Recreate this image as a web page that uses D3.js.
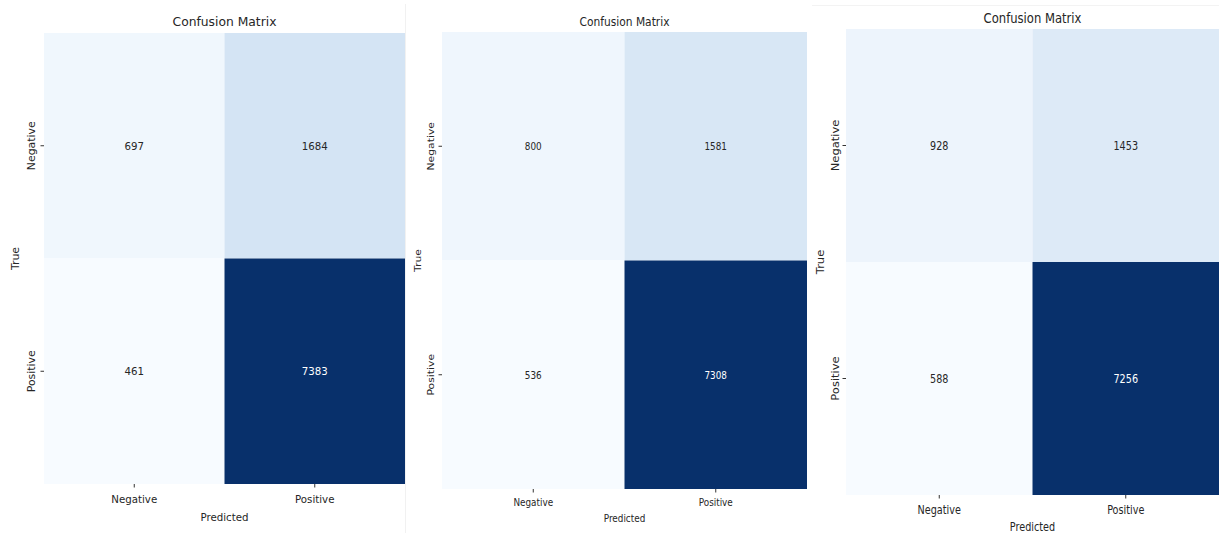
<!DOCTYPE html>
<html>
<head>
<meta charset="utf-8">
<script src="https://cdn.jsdelivr.net/npm/d3@7"></script>
<style>
  body { margin: 0; background: #fff; }
  svg { display: block; }
  text { font-family: "DejaVu Sans", sans-serif; fill: #262626; }
</style>
</head>
<body>
<div id="chart"></div>
<script>
var W = 1219, H = 533;

// class labels and the three confusion matrices (rows = True, cols = Predicted)
var classes = ["Negative", "Positive"];
var matrixA = [[697, 1684], [461, 7383]];
var matrixB = [[800, 1581], [536, 7308]];
var matrixC = [[928, 1453], [588, 7256]];
var titles = ["Confusion Matrix", "Confusion Matrix", "Confusion Matrix"];

// each panel was squeezed sideways a bit, so the text gets a horizontal scale
var panels = [
  { m: matrixA, x0: 44, x1: 405, y0: 33, y1: 484, sx: 0.94, fs: 10.9, tfs: 13.1,
    titleY: 26, xtickY: 503, xlabY: 521, ytickX: 35, ylabX: 19 },
  { m: matrixB, x0: 442, x1: 807, y0: 32, y1: 489, sx: 0.82, fs: 10.8, tfs: 13,
    titleY: 26, xtickY: 506, xlabY: 522, ytickX: 434, ylabX: 421 },
  { m: matrixC, x0: 846, x1: 1219, y0: 29, y1: 495, sx: 0.84, fs: 11.5, tfs: 13.8,
    titleY: 23, xtickY: 514, xlabY: 531, ytickX: 839, ylabX: 824 }
];

var svg = d3.select("#chart")
  .append("svg")
  .attr("width", W)
  .attr("height", H);

// faint seams between the stitched images
svg.append("line")
  .attr("x1", 405.5).attr("x2", 405.5).attr("y1", 4).attr("y2", H)
  .attr("stroke", "#f1f1f1");
svg.append("line")
  .attr("x1", 812).attr("x2", W).attr("y1", 5.5).attr("y2", 5.5)
  .attr("stroke", "#f3f3f3");

panels.forEach(function(p, pi) {
  var g = svg.append("g");
  var vals = d3.merge(p.m);

  var x = d3.scaleBand().domain(classes).range([p.x0, p.x1]);
  var y = d3.scaleBand().domain(classes).range([p.y0, p.y1]);
  var color = d3.scaleSequential(d3.interpolateBlues)
    .domain([d3.min(vals), d3.max(vals)]);

  var cells = [];
  p.m.forEach(function(row, i) {
    row.forEach(function(v, j) {
      cells.push({ t: classes[i], p: classes[j], v: v });
    });
  });

  g.selectAll("rect")
    .data(cells)
    .enter()
    .append("rect")
    .attr("x", function(d) { return x(d.p); })
    .attr("y", function(d) { return y(d.t); })
    .attr("width", x.bandwidth())
    .attr("height", y.bandwidth())
    .attr("fill", function(d) { return color(d.v); });

  // annotations
  g.selectAll("text.annot")
    .data(cells)
    .enter()
    .append("text")
    .attr("class", "annot")
    .attr("text-anchor", "middle")
    .attr("dy", "0.36em")
    .attr("font-size", p.fs)
    .attr("transform", function(d) {
      return "translate(" + (x(d.p) + x.bandwidth() / 2) + "," + (y(d.t) + y.bandwidth() / 2) + ") scale(" + p.sx + ",1)";
    })
    .style("fill", function(d) { return color.domain()[1] - d.v < (color.domain()[1] - color.domain()[0]) / 2 ? "#ffffff" : "#262626"; })
    .text(function(d) { return d.v; });

  // tick marks
  g.append("g")
    .attr("transform", "translate(0," + p.y1 + ")")
    .call(d3.axisBottom(x).tickSize(3.5).tickFormat(""))
    .call(function(a) { a.select(".domain").remove(); a.selectAll("line").attr("stroke", "#333"); });
  g.append("g")
    .attr("transform", "translate(" + p.x0 + ",0)")
    .call(d3.axisLeft(y).tickSize(3.5).tickFormat(""))
    .call(function(a) { a.select(".domain").remove(); a.selectAll("line").attr("stroke", "#333"); });

  // x tick labels
  g.selectAll("text.xt")
    .data(classes)
    .enter()
    .append("text")
    .attr("class", "xt")
    .attr("text-anchor", "middle")
    .attr("font-size", p.fs)
    .attr("transform", function(d) {
      return "translate(" + (x(d) + x.bandwidth() / 2) + "," + p.xtickY + ") scale(" + p.sx + ",1)";
    })
    .text(function(d) { return d; });

  // y tick labels
  g.selectAll("text.yt")
    .data(classes)
    .enter()
    .append("text")
    .attr("class", "yt")
    .attr("text-anchor", "middle")
    .attr("font-size", p.fs)
    .attr("transform", function(d) {
      return "translate(" + p.ytickX + "," + (y(d) + y.bandwidth() / 2) + ") scale(" + p.sx + ",1) rotate(-90)";
    })
    .text(function(d) { return d; });

  // axis titles
  g.append("text")
    .attr("text-anchor", "middle")
    .attr("font-size", p.fs)
    .attr("transform", "translate(" + ((p.x0 + p.x1) / 2) + "," + p.xlabY + ") scale(" + p.sx + ",1)")
    .text("Predicted");
  g.append("text")
    .attr("text-anchor", "middle")
    .attr("font-size", p.fs)
    .attr("transform", "translate(" + p.ylabX + "," + ((p.y0 + p.y1) / 2) + ") scale(" + p.sx + ",1) rotate(-90)")
    .text("True");

  // title
  g.append("text")
    .attr("text-anchor", "middle")
    .attr("font-size", p.tfs)
    .attr("transform", "translate(" + ((p.x0 + p.x1) / 2) + "," + p.titleY + ") scale(" + p.sx + ",1)")
    .text(titles[pi]);
});
</script>
</body>
</html>
